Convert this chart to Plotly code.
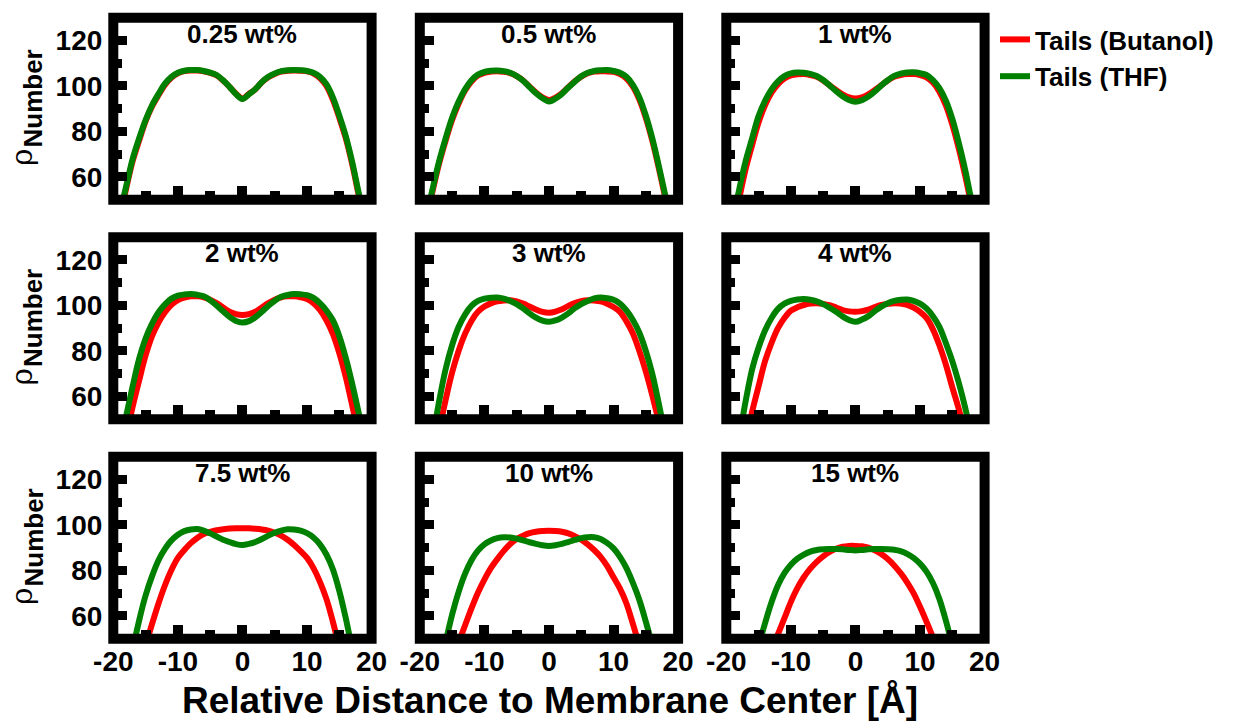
import plotly.graph_objects as go

# ---------------- data ----------------
X = [-19, -18, -17, -16, -15, -14, -13, -12, -11, -10, -9, -8, -7, -6, -5, -4, -3, -2, -1, 0,
     1, 2, 3, 4, 5, 6, 7, 8, 9, 10, 11, 12, 13, 14, 15, 16, 17, 18, 19]

panel_labels = ["0.25 wt%", "0.5 wt%", "1 wt%", "2 wt%", "3 wt%", "4 wt%",
                "7.5 wt%", "10 wt%", "15 wt%"]

x_tickvals = [-20, -10, 0, 10, 20]
x_ticktext = ["-20", "-10", "0", "10", "20"]
x_minorvals = [-15, -5, 5, 15]
y_tickvals = [60, 80, 100, 120]
y_ticktext = ["60", "80", "100", "120"]
y_minorvals = [70, 90, 110]

thf_025 = [44, 56, 68, 77, 85, 91.5, 96.5, 101, 104, 105.8, 106.7, 107, 107, 106.6, 105.9, 104.8, 102.5, 99.6, 96.4, 94.3,
           96.3, 98.6, 101.7, 104, 105.5, 106.5, 106.9, 107, 106.9, 106.6, 105.8, 104, 100.8, 95, 87, 78, 66.5, 53, 40]
but_025 = [42, 55, 67, 76, 84.5, 91, 96, 100.5, 103.6, 105.5, 106.5, 106.8, 106.8, 106.4, 105.7, 104.6, 102.4, 99.6, 96.6, 94.5,
           96.5, 98.6, 101.6, 103.8, 105.3, 106.3, 106.7, 106.8, 106.7, 106.4, 105.5, 103.5, 100, 94, 86, 77, 65.5, 52, 39]

thf_05 = [42, 55, 67, 77, 86, 93, 98.5, 102.5, 105, 106.2, 106.7, 106.8, 106.5, 105.8, 104.4, 102.3, 99.5, 96.8, 94.6, 93.2,
          94.4, 96.5, 99.3, 101.9, 104.3, 105.8, 106.6, 106.9, 107, 106.6, 105.8, 104, 100.5, 95, 87, 77, 65, 52, 39]
but_05 = [41, 54, 66, 76, 85, 92.2, 98, 102, 104.6, 105.8, 106.3, 106.5, 106.2, 105.6, 104.3, 102.4, 99.7, 97.1, 95, 93.8,
          94.9, 96.8, 99.5, 102, 104.1, 105.6, 106.3, 106.5, 106.4, 106.2, 105.2, 103.3, 99.7, 94, 86, 76, 64, 51, 38]

thf_1 = [40, 54.5, 67, 77, 86.8, 93.5, 98.5, 102, 104.3, 105.5, 105.9, 105.8, 105.3, 104.4, 102.6, 100.2, 97.7, 95.5, 93.8, 93,
         93.7, 95.3, 97.6, 100.2, 102.5, 104.4, 105.4, 105.9, 106, 105.6, 104.8, 102.6, 99, 93.5, 85.5, 75, 63, 49, 36]
but_1 = [36, 50.5, 63.5, 74, 84, 91.5, 97, 100.8, 103.3, 104.6, 105.1, 105.2, 104.8, 104, 102.4, 100.3, 98.2, 96.3, 95, 94.5,
         95, 96.3, 98.2, 100.3, 102.4, 104, 104.8, 105.2, 105.2, 104.8, 103.8, 101.5, 97.5, 91.5, 83, 72.5, 60.5, 47, 34]

thf_2 = [38, 51.5, 64.5, 76.5, 85.5, 92, 97, 100.5, 103, 104.3, 104.8, 105, 104.7, 104, 102.3, 100, 97.4, 95, 93.2, 92.5,
         93.1, 94.8, 97.2, 99.8, 102.1, 103.8, 104.6, 105, 104.9, 104.5, 103.3, 101, 97.8, 93.5, 86.5, 77, 65.5, 52.8, 39]
but_2 = [30, 42, 55.5, 67, 78, 86.5, 92.5, 97, 100.3, 102.3, 103.4, 104, 104, 103.6, 102.5, 101, 99.1, 97.3, 96.2, 95.8,
         96.2, 97.3, 99.1, 101, 102.5, 103.6, 104, 104, 103.6, 102.8, 101, 98, 93.5, 87.5, 79, 68.5, 56, 43, 30]

thf_3 = [28, 42, 58, 72, 82.5, 90.5, 96, 99.8, 102, 103, 103.4, 103.5, 103, 102, 100.6, 98.7, 96.5, 94.6, 93.3, 92.8,
         93.4, 94.7, 96.5, 98.8, 100.6, 102, 103.1, 103.5, 103.2, 102.5, 100.8, 97.8, 93.6, 88, 80, 70, 57, 43, 29]
but_3 = [20, 32, 45, 58.5, 70.5, 80, 87.5, 93.2, 97.2, 99.5, 100.9, 101.8, 102.2, 102.3, 101.8, 100.8, 99.5, 98.2, 97.2, 96.8,
         97.3, 98.3, 99.8, 101, 101.9, 102.3, 102.2, 101.8, 100.8, 99.3, 97.2, 93, 87.7, 80, 71, 60.5, 49, 37, 25]

thf_4 = [28, 42, 58, 72, 81.5, 89, 94.5, 98.5, 100.8, 102, 102.6, 102.8, 102.5, 101.8, 100.6, 99, 97.2, 95.2, 93.6, 92.8,
         93.8, 95.3, 97.5, 99.5, 101, 102, 102.5, 102.6, 102, 100.8, 98.7, 95.3, 90.6, 83.5, 75.5, 66, 55, 42, 29]
but_4 = [14, 27, 40, 53.3, 64.5, 75.5, 83.5, 90, 94.5, 97.7, 99.2, 100.2, 100.8, 101, 100.7, 100.1, 99.1, 98, 97.4, 97.2,
         97.5, 98.2, 99.3, 100.2, 100.7, 101, 100.8, 100.3, 99, 97.2, 94.5, 89.5, 82.5, 74, 64, 54.5, 43, 31, 18]

thf_75 = [15, 30, 45, 58, 69, 77.5, 84.5, 89.5, 93.2, 95.7, 97.3, 98, 98.2, 97.5, 96.3, 94.9, 93.5, 92.5, 91.6, 91.2,
          91.7, 92.5, 93.8, 95.3, 96.6, 97.5, 98.1, 98, 97.5, 96.4, 94.5, 91.5, 87, 80.5, 71, 59, 45, 30, 15]
but_75 = [-5, 10, 25, 37, 47, 56.5, 65.5, 73.5, 80.2, 85.5, 89, 92, 94.3, 96, 97, 97.7, 98.1, 98.4, 98.5, 98.5,
          98.5, 98.3, 98, 97.5, 96.6, 95.3, 93.5, 91.2, 88.5, 85.5, 81, 75, 67.5, 57.5, 46, 35, 23, 10, -5]

thf_10 = [10, 23, 36, 48.5, 60.5, 70.5, 78.5, 84.5, 88.7, 91.5, 93.2, 94.2, 94.6, 94.5, 94, 93.2, 92.4, 91.7, 91.1, 90.8,
          91.1, 91.7, 92.5, 93.4, 94.2, 94.6, 94.6, 93.8, 92.1, 89.7, 86, 81, 74.5, 67, 57.5, 47, 35, 22, 8]
but_10 = [-5, 8, 21, 32, 41, 48.2, 55.8, 63.3, 70.2, 76, 81, 85, 88.6, 91.6, 93.8, 95.3, 96.4, 97, 97.3, 97.4,
          97.3, 97, 96.3, 95.1, 93.5, 91.5, 89, 86, 82, 77, 72, 65.5, 56.5, 47, 37, 26, 14, 2, -10]

thf_15 = [0, 14, 26, 37, 47, 56.8, 66, 73.5, 78.8, 82.5, 85.2, 87, 88.3, 89, 89.3, 89.4, 89.4, 89.3, 89, 88.8,
          89, 89.3, 89.4, 89.4, 89.3, 89.1, 88.5, 87.3, 85.5, 83, 79.5, 74.5, 67.5, 58, 47, 36, 24, 11, -2]
but_15 = [-30, -15, 0, 14, 26, 36.5, 45, 52, 59, 66.2, 72.2, 77, 80.8, 83.8, 86.2, 88.1, 89.5, 90.4, 90.8, 90.8,
          90.6, 90, 88.8, 87.2, 85, 82.2, 78.8, 74.8, 70, 64, 57.5, 50.5, 42, 33, 22, 10, -3, -17, -30]

BUTANOL = [but_025, but_05, but_1, but_2, but_3, but_4, but_75, but_10, but_15]
THF = [thf_025, thf_05, thf_1, thf_2, thf_3, thf_4, thf_75, thf_10, thf_15]

series_names = ["Tails (Butanol)", "Tails (THF)"]
x_title = "Relative Distance to Membrane Center [Å]"

# ---------------- layout constants ----------------
W, H = 1239, 723
COL_LEFT = [113.3, 419.8, 726.3]
ROW_TOP = [17.7, 237.2, 456.7]
PW, PH = 258.3, 182.0
RED, GREEN = "#ff0000", "#008000"
FONT = "Liberation Sans, Arial, Helvetica, sans-serif"

fig = go.Figure()
layout = dict(
    width=W, height=H,
    margin=dict(l=0, r=0, t=0, b=0, autoexpand=False),
    paper_bgcolor="white", plot_bgcolor="white",
    font=dict(family=FONT, color="black"),
    showlegend=True,
    legend=dict(x=995 / W, y=1 - 16 / H, xanchor="left", yanchor="top",
                font=dict(family=FONT, size=26, color="black", weight="bold"),
                bgcolor="rgba(0,0,0,0)", borderwidth=0, tracegroupgap=0),
)
annotations = []
shapes = []

for i in range(9):
    r, c = divmod(i, 3)
    n = i + 1
    sfx = "" if n == 1 else str(n)
    xa, ya = "x" + sfx, "y" + sfx
    x0 = COL_LEFT[c] / W
    x1 = (COL_LEFT[c] + PW) / W
    y1 = 1 - ROW_TOP[r] / H
    y0 = 1 - (ROW_TOP[r] + PH) / H

    fig.add_trace(go.Scatter(x=X, y=BUTANOL[i], mode="lines", name=series_names[0],
                             line=dict(color=RED, width=6, shape="spline", smoothing=1.0),
                             xaxis=xa, yaxis=ya, showlegend=(i == 0), legendgroup="b"))
    fig.add_trace(go.Scatter(x=X, y=THF[i], mode="lines", name=series_names[1],
                             line=dict(color=GREEN, width=6, shape="spline", smoothing=1.0),
                             xaxis=xa, yaxis=ya, showlegend=(i == 0), legendgroup="t"))

    layout["xaxis" + sfx] = dict(
        domain=[x0, x1], anchor=ya, range=[-20, 20],
        tickmode="array", tickvals=x_tickvals, ticktext=x_ticktext,
        ticks="inside", ticklen=14, tickwidth=10, tickcolor="black",
        minor=dict(tickmode="array", tickvals=x_minorvals, ticks="inside", ticklen=9,
                   tickwidth=10, tickcolor="black", showgrid=False),
        showline=False, showgrid=False, zeroline=False,
        showticklabels=(r == 2), ticklabelstandoff=3,
        tickfont=dict(family=FONT, size=28, color="black", weight="bold"),
        fixedrange=True,
    )
    layout["yaxis" + sfx] = dict(
        domain=[y0, y1], anchor=xa, range=[50, 130],
        tickmode="array", tickvals=y_tickvals, ticktext=y_ticktext,
        ticks="inside", ticklen=14, tickwidth=9, tickcolor="black",
        minor=dict(tickmode="array", tickvals=y_minorvals, ticks="inside", ticklen=9,
                   tickwidth=9, tickcolor="black", showgrid=False),
        showline=False, showgrid=False, zeroline=False,
        showticklabels=(c == 0), ticklabelstandoff=10,
        tickfont=dict(family=FONT, size=28, color="black", weight="bold"),
        fixedrange=True,
    )
    shapes.append(dict(type="rect", xref=xa + " domain", yref=ya + " domain",
                       x0=0, x1=1, y0=0, y1=1, line=dict(color="black", width=10),
                       layer="above"))
    annotations.append(dict(text=panel_labels[i], xref="paper", yref="paper",
                            x=(COL_LEFT[c] + PW / 2) / W, y=1 - (ROW_TOP[r] + 16.3) / H,
                            xanchor="center", yanchor="middle", showarrow=False,
                            font=dict(family=FONT, size=26, color="black", weight="bold")))

for r in range(3):
    annotations.append(dict(text="ρ", xref="paper", yref="paper",
                            x=21 / W, y=1 - (ROW_TOP[r] + 139.3) / H, textangle=-90,
                            xanchor="center", yanchor="middle", showarrow=False,
                            font=dict(family="DejaVu Serif, serif", size=30, color="black")))
    annotations.append(dict(text="Number", xref="paper", yref="paper",
                            x=33 / W, y=1 - (ROW_TOP[r] + 80.8) / H, textangle=-90,
                            xanchor="center", yanchor="middle", showarrow=False,
                            font=dict(family=FONT, size=26, color="black", weight="bold")))

annotations.append(dict(text=x_title, xref="paper", yref="paper",
                        x=550 / W, y=1 - 700 / H, xanchor="center", yanchor="middle",
                        showarrow=False,
                        font=dict(family=FONT, size=37, color="black", weight="bold")))

layout["annotations"] = annotations
layout["shapes"] = shapes
fig.update_layout(**layout)
fig.write_html("out.html")
